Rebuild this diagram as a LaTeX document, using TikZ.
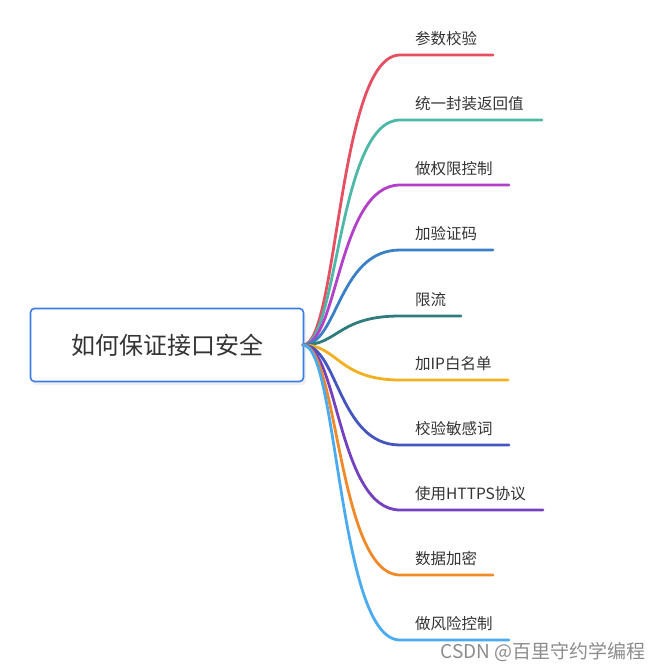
\documentclass[tikz,border=0pt]{standalone}
\usepackage{fontspec}
\setmainfont{Noto Sans CJK SC}
\definecolor{c1}{HTML}{E64E62}
\definecolor{c2}{HTML}{4DB8A8}
\definecolor{c3}{HTML}{B240C8}
\definecolor{c4}{HTML}{3B80C4}
\definecolor{c5}{HTML}{2E7D7C}
\definecolor{c6}{HTML}{F2B01E}
\definecolor{c7}{HTML}{4455C0}
\definecolor{c8}{HTML}{7340C0}
\definecolor{c9}{HTML}{F08A28}
\definecolor{c10}{HTML}{4AABF0}
\definecolor{boxblue}{HTML}{3C7EE8}
\definecolor{txt}{HTML}{333333}
\tikzset{
  rootbox/.style={draw=boxblue, line width=1.6pt, rounded corners=4pt, fill=white,
    minimum width=273pt, minimum height=73pt, font=\fontsize{24}{28}\selectfont, text=txt, inner sep=0pt},
  lab/.style={anchor=west, inner sep=0pt, font=\fontsize{15.5}{18}\selectfont, text=txt},
  branch/.style={line width=2.8pt, line cap=round}
}
\begin{document}
\begin{tikzpicture}[x=1pt,y=-1pt]
\useasboundingbox (0,0) rectangle (660,671);
\fill[black!6, rounded corners=4pt] (32,312) rectangle (306,385);
\node[rootbox] (root) at (167,345) {\raisebox{-4pt}{如何保证接口安全}};
\coordinate (o) at (303,345);
\foreach \i/\y/\e/\t in {1/55/493/参数校验, 2/120/542/统一封装返回值, 3/185/509/做权限控制, 4/250/493/加验证码, 5/316/461/限流, 6/380/508/加IP白名单, 7/445/509/校验敏感词, 8/510/543/使用HTTPS协议, 9/575/493/数据加密, 10/640/509/做风险控制}{
  \node[lab] (l\i) at (415,\y-16) {\t};
  \coordinate (s\i) at (400,\y);
  \coordinate (e\i) at (\e,\y);
  \draw[branch, draw=c\i] (o) .. controls +(35,0) and +(-62,0) .. (s\i) -- (e\i);
}
\node[anchor=east, inner sep=0pt, font=\fontsize{19}{22}\selectfont, text=black!45] (wm) at (646,652) {CSDN @百里守约学编程};
\end{tikzpicture}
\end{document}
